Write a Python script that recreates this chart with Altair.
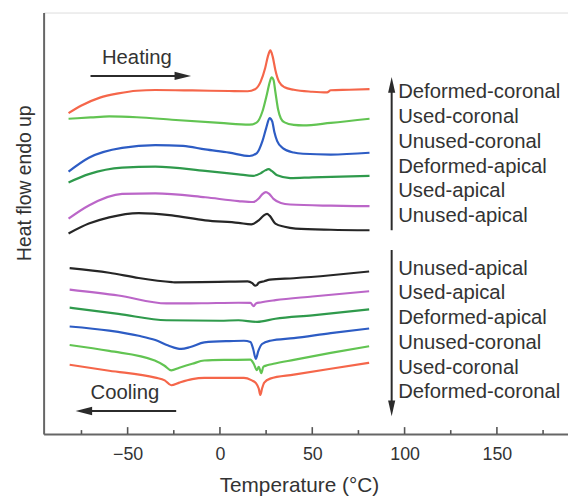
import altair as alt
import pandas as pd

FONT = "Liberation Sans"

# ---- heating curves (temperature in °C, heat flow in arbitrary units, endo up) ----
h_red_t = [-82, -75, -65, -55, -45, -35, -15, 5, 15, 19, 22, 24.5, 26, 27.3, 28.5, 30, 32, 35, 40, 50, 58, 60, 70, 81]
h_red_y = [324.3, 332, 340, 344.3, 347, 347.7, 347.3, 346.7, 346.5, 348.5, 356, 370, 382, 387.7, 382, 368, 356, 350.5, 348, 346, 345.3, 347.5, 348, 348.7]

h_grn_t = [-82, -70, -60, -45, -26, 0, 16, 20, 23, 25.5, 27, 28, 29, 30, 31.5, 33, 35, 40, 45, 60, 81]
h_grn_y = [318.7, 320, 321, 320.2, 317.7, 314.5, 312.7, 315, 326, 344, 356, 360.5, 358, 346, 328, 319, 315, 312.5, 312, 314.5, 318.7]

h_blu_t = [-82, -71, -53, -35, -20, -8, 5, 16, 20, 23, 25, 26.9, 28.3, 29.5, 31, 34, 40, 45, 60, 81]
h_blu_y = [265.3, 279.3, 289.3, 292, 291.2, 287.7, 284.5, 281, 284, 296, 309, 319.3, 316, 305, 296, 289, 284.5, 283.3, 282.5, 284.3]

h_dgr_t = [-82, -71, -53, -35, -8, 10, 18, 22, 24.5, 26.4, 28, 31, 38, 50, 81]
h_dgr_y = [254.3, 262.7, 269.3, 270.3, 266, 262.5, 261, 263.5, 266.5, 267.7, 266, 261.5, 258.7, 259.5, 261]

h_pur_t = [-82, -71, -53, -35, -8, 10, 18, 21, 23, 24.9, 26.5, 29, 33, 38, 60, 81]
h_pur_y = [217.7, 231, 242.7, 243.3, 239.3, 235.5, 234.5, 238, 242.5, 244.5, 243, 237.7, 233.5, 232, 230.8, 230.3]

h_blk_t = [-82, -71, -60, -44, -26, -8, 10, 17, 21, 23.5, 25.5, 27, 30, 35, 41, 60, 81]
h_blk_y = [202.7, 212.7, 219, 223.3, 221, 216, 213.5, 212, 216, 220.5, 222.5, 220.5, 212.7, 209.5, 207.7, 206.5, 206]

# ---- cooling curves ----
c_blk_t = [-81.4, -60, -44, -26, -24.5, -10, 5, 15, 17.5, 19, 20, 21, 24, 27, 40, 60, 80.8]
c_blk_y = [167.7, 163, 157.7, 153.5, 153.3, 153.5, 154, 154.3, 152.5, 150, 150.5, 153, 154.5, 156, 157.5, 160.5, 164.3]

c_pur_t = [-81.4, -55, -29, -10, 10, 16.5, 18.3, 19.5, 22, 30, 50, 80.8]
c_pur_y = [146, 140, 132, 132.2, 132.7, 132.5, 129.3, 132, 133, 135.3, 139, 144.3]

c_dgr_t = [-81.4, -55, -29, 0, 10, 20.1, 30, 50, 80.8]
c_dgr_y = [127.7, 121.5, 115, 114.5, 115, 113.4, 116.5, 120, 126]

c_blu_t = [-81.4, -60, -44, -35, -28, -21, -16, -8.5, 5, 13, 16.5, 18, 19.4, 20.8, 22.8, 27.2, 40, 60, 80.8]
c_blu_y = [108.7, 104.5, 99.3, 95, 89.5, 86, 88, 92.7, 94, 94.3, 93, 86, 76, 84, 91, 94.3, 97, 102, 106.7]

c_grn_t = [-81.4, -60, -35.3, -30, -26.4, -22, -15, -8.5, 5, 16.5, 18.3, 20, 21, 22.4, 23.5, 25.5, 29, 40, 60, 80.8]
c_grn_y = [90, 84, 74.3, 69, 64.3, 67, 71, 74.3, 75, 75.3, 71, 64.5, 68, 61.5, 68, 69.5, 71, 75, 82, 88.7]

c_red_t = [-81.4, -60, -35, -29.9, -26.4, -22, -15, -8.5, 13, 17, 19.5, 21, 21.9, 22.8, 24, 27.2, 40, 60, 80.8]
c_red_y = [70, 64, 57, 54.3, 49.3, 52, 55.5, 56.7, 56.7, 54.5, 51.5, 46, 39.5, 46, 52, 56, 60, 66, 72]

heating_labels = ["Deformed-coronal", "Used-coronal", "Unused-coronal", "Deformed-apical", "Used-apical", "Unused-apical"]
cooling_labels = ["Unused-apical", "Used-apical", "Deformed-apical", "Unused-coronal", "Used-coronal", "Deformed-coronal"]
heating_label_y = [339.3, 314.3, 289.3, 264.3, 239.3, 214.3]
cooling_label_y = [161, 136, 111, 86, 61, 36]

x_ticks = [-50, 0, 50, 100, 150]
minor_ticks = [-75, -25, 25, 75, 125, 175]

COL = {
    "red": "#f5664a",
    "grn": "#62c452",
    "blu": "#2d5cc4",
    "dgr": "#2f9a4c",
    "pur": "#bb66c8",
    "blk": "#262626",
}

curves = [
    ("H-red", h_red_t, h_red_y, "red"),
    ("H-grn", h_grn_t, h_grn_y, "grn"),
    ("H-blu", h_blu_t, h_blu_y, "blu"),
    ("H-dgr", h_dgr_t, h_dgr_y, "dgr"),
    ("H-pur", h_pur_t, h_pur_y, "pur"),
    ("H-blk", h_blk_t, h_blk_y, "blk"),
    ("C-blk", c_blk_t, c_blk_y, "blk"),
    ("C-pur", c_pur_t, c_pur_y, "pur"),
    ("C-dgr", c_dgr_t, c_dgr_y, "dgr"),
    ("C-blu", c_blu_t, c_blu_y, "blu"),
    ("C-grn", c_grn_t, c_grn_y, "grn"),
    ("C-red", c_red_t, c_red_y, "red"),
]

rows = []
for name, ts, ys, col in curves:
    for i, (t, y) in enumerate(zip(ts, ys)):
        rows.append({"curve": name, "T": t, "H": y, "col": col, "i": i})
df = pd.DataFrame(rows)

XD = [-95.5, 188.5]
YD = [0, 426]
xs = alt.Scale(domain=XD, nice=False, zero=False)
ys = alt.Scale(domain=YD, nice=False, zero=False)

base_x_axis = alt.Axis(
    values=x_ticks, ticks=False, grid=False, domainColor="#666666", domainWidth=2,
    labelFont=FONT, labelFontSize=18, labelColor="#333333", labelPadding=12,
    labelFlush=False, title="Temperature (°C)", titleFont=FONT, titleFontSize=21,
    titleFontWeight="normal", titleColor="#333333", titleX=258, titleY=58,
    titleBaseline="alphabetic",
)
base_y_axis = alt.Axis(
    labels=False, ticks=False, grid=False, domainColor="#666666", domainWidth=2,
    title="Heat flow endo up", titleFont=FONT, titleFontSize=19.5, titleFontWeight="normal",
    titleColor="#333333", titleX=-19, titleY=172, titleBaseline="middle", titleAngle=-90,
)

lines = alt.Chart(df).mark_line(strokeWidth=2.2, interpolate="monotone").encode(
    x=alt.X("T:Q", scale=xs, axis=base_x_axis),
    y=alt.Y("H:Q", scale=ys, axis=base_y_axis),
    detail="curve:N",
    order="i:Q",
    color=alt.Color("col:N", scale=alt.Scale(domain=list(COL.keys()), range=list(COL.values())), legend=None),
)

# tick marks (inward)
major_df = pd.DataFrame({"T": x_ticks})
minor_df = pd.DataFrame({"T": minor_ticks})
major_rules = alt.Chart(major_df).mark_rule(color="#555555", strokeWidth=1.6).encode(
    x=alt.X("T:Q", scale=xs), y=alt.value(426), y2=alt.value(419))
minor_rules = alt.Chart(minor_df).mark_rule(color="#555555", strokeWidth=1.6).encode(
    x=alt.X("T:Q", scale=xs), y=alt.value(426), y2=alt.value(422))

# arrows
ARROW = "#2b2b2b"
AX = 93.0
hseg = pd.DataFrame({"T": [-70.1, -73.7], "T2": [-20.0, -23.7], "H": [362, 23.3]})
hseg_rules = alt.Chart(hseg).mark_rule(color=ARROW, strokeWidth=2).encode(
    x=alt.X("T:Q", scale=xs), x2="T2:Q", y=alt.Y("H:Q", scale=ys))
vseg = pd.DataFrame({"T": [AX, AX], "H": [206, 186], "H2": [353, 26]})
vseg_rules = alt.Chart(vseg).mark_rule(color=ARROW, strokeWidth=2).encode(
    x=alt.X("T:Q", scale=xs), y=alt.Y("H:Q", scale=ys), y2="H2:Q")

head_right = alt.Chart(pd.DataFrame({"T": [-20.1], "H": [362]})).mark_point(
    shape="M-1,-0.5L1,0L-1,0.5Z", size=279, filled=True, color=ARROW, opacity=1, strokeWidth=0
).encode(x=alt.X("T:Q", scale=xs), y=alt.Y("H:Q", scale=ys))
head_left = alt.Chart(pd.DataFrame({"T": [-73.7], "H": [23.3]})).mark_point(
    shape="M1,-0.5L-1,0L1,0.5Z", size=279, filled=True, color=ARROW, opacity=1, strokeWidth=0
).encode(x=alt.X("T:Q", scale=xs), y=alt.Y("H:Q", scale=ys))
head_up = alt.Chart(pd.DataFrame({"T": [AX], "H": [353]})).mark_point(
    shape="M-0.45,1L0,-1L0.45,1Z", size=256, filled=True, color=ARROW, opacity=1, strokeWidth=0
).encode(x=alt.X("T:Q", scale=xs), y=alt.Y("H:Q", scale=ys))
head_down = alt.Chart(pd.DataFrame({"T": [AX], "H": [26]})).mark_point(
    shape="M-0.45,-1L0,1L0.45,-1Z", size=256, filled=True, color=ARROW, opacity=1, strokeWidth=0
).encode(x=alt.X("T:Q", scale=xs), y=alt.Y("H:Q", scale=ys))

# texts
ann = pd.DataFrame({"T": [-63.9, -70.1], "H": [374.3, 35.0], "txt": ["Heating", "Cooling"]})
ann_text = alt.Chart(ann).mark_text(font=FONT, fontSize=20.5, color="#333333", align="left",
                                     baseline="alphabetic").encode(
    x=alt.X("T:Q", scale=xs), y=alt.Y("H:Q", scale=ys), text="txt:N")

lab = pd.DataFrame({
    "T": [96.5] * 12,
    "H": heating_label_y + cooling_label_y,
    "txt": heating_labels + cooling_labels,
})
lab_text = alt.Chart(lab).mark_text(font=FONT, fontSize=20.5, color="#333333", align="left",
                                     baseline="alphabetic").encode(
    x=alt.X("T:Q", scale=xs), y=alt.Y("H:Q", scale=ys), text="txt:N")

chart = alt.layer(
    lines, major_rules, minor_rules, hseg_rules, vseg_rules,
    head_right, head_left, head_up, head_down, ann_text, lab_text
).properties(
    width=530, height=426,
    autosize=alt.AutoSizeParams(type="none"),
    padding={"left": 36, "top": 2, "right": 0, "bottom": 60},
).configure_view(stroke=None).configure(background="white")

chart.save("out.html", embed_options={"renderer": "svg", "actions": False})
